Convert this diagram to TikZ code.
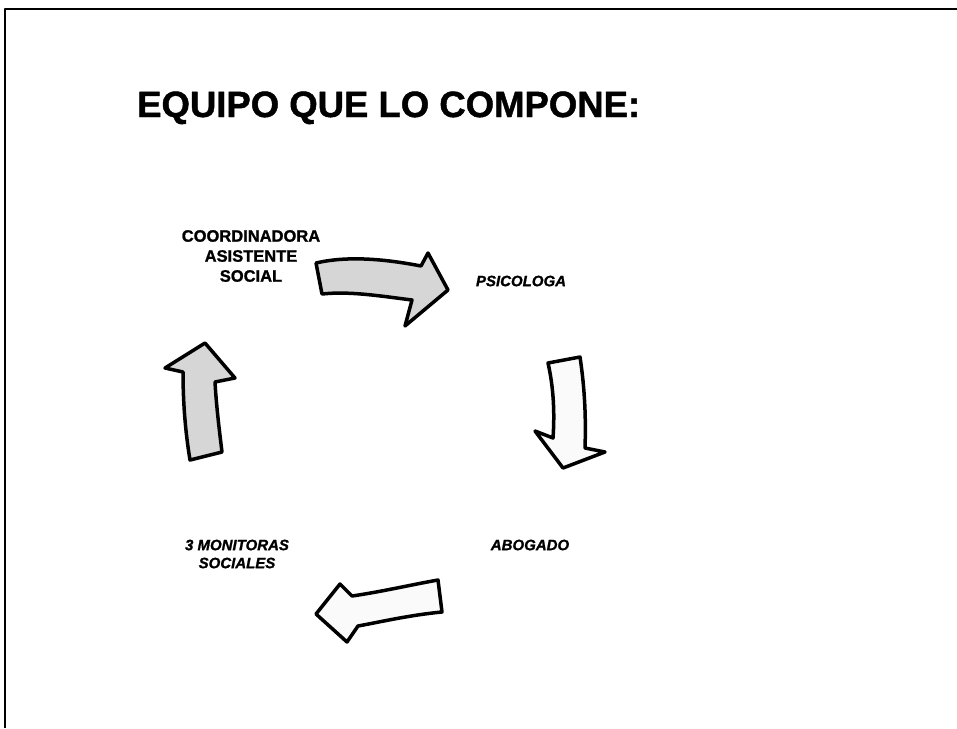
\documentclass[tikz,border=0pt]{standalone}
\usepackage{fontspec}
\setmainfont{Liberation Sans}[BoldFeatures={FakeBold=1.2}, BoldItalicFeatures={FakeBold=1.2}]
\usepackage{tikz}
\definecolor{stipple}{RGB}{214, 214, 214}
\definecolor{pale}{RGB}{250, 250, 250}

\begin{document}
\begin{tikzpicture}[x=1pt, y=-1pt, line join=round,
    arrowbody/.style={draw=black, line width=3.5pt},
    label/.style={font=\bfseries\fontsize{16.5}{20}\selectfont, align=center},
    ilabel/.style={font=\bfseries\itshape\fontsize{15}{18}\selectfont, align=center}]
  \useasboundingbox (0, 0) rectangle (957, 728);
  \fill[white] (0, 0) rectangle (957, 728);

  % slide frame
  \draw[line width=2] (5, 728) -- (5, 9) -- (957, 9);

  \node[anchor=base west, font=\bfseries\fontsize{36.5}{40}\selectfont, inner sep=0] (title) at (137, 117) {EQUIPO QUE LO COMPONE:};

  \node[label] (coord) at (251, 256) {COORDINADORA\\ASISTENTE\\SOCIAL};
  \node[ilabel] (psico) at (521, 281) {PSICOLOGA};
  \node[ilabel] (abog) at (530, 545) {ABOGADO};
  \node[ilabel] (monit) at (237, 554) {3 MONITORAS\\SOCIALES};

  % the four block arrows of the cycle
  \filldraw[arrowbody, fill=stipple] (316, 263) .. controls (350, 255) and (390, 260) .. (421, 266) -- (428, 253) -- (448, 290) -- (405, 326) -- (412, 300) .. controls (380, 296) and (350, 291) .. (322, 294) -- cycle;
  \filldraw[arrowbody, fill=pale] (548, 363) -- (580, 357) .. controls (585, 390) and (586, 420) .. (585, 448) -- (605, 452) -- (563, 468) -- (535, 431) -- (553, 438) .. controls (555, 410) and (553, 385) .. (548, 363) -- cycle;
  \filldraw[arrowbody, fill=pale] (438, 580) -- (442, 612) .. controls (410, 615) and (380, 622) .. (358, 626) -- (347, 642) -- (316, 614) -- (340, 584) -- (352, 596) .. controls (380, 592) and (410, 585) .. (438, 580) -- cycle;
  \filldraw[arrowbody, fill=stipple] (190, 460) -- (222, 452) .. controls (218, 420) and (216, 400) .. (215, 382) -- (235, 378) -- (205, 343) -- (165, 368) -- (183, 372) .. controls (183, 400) and (185, 430) .. (190, 460) -- cycle;
\end{tikzpicture}
\end{document}
